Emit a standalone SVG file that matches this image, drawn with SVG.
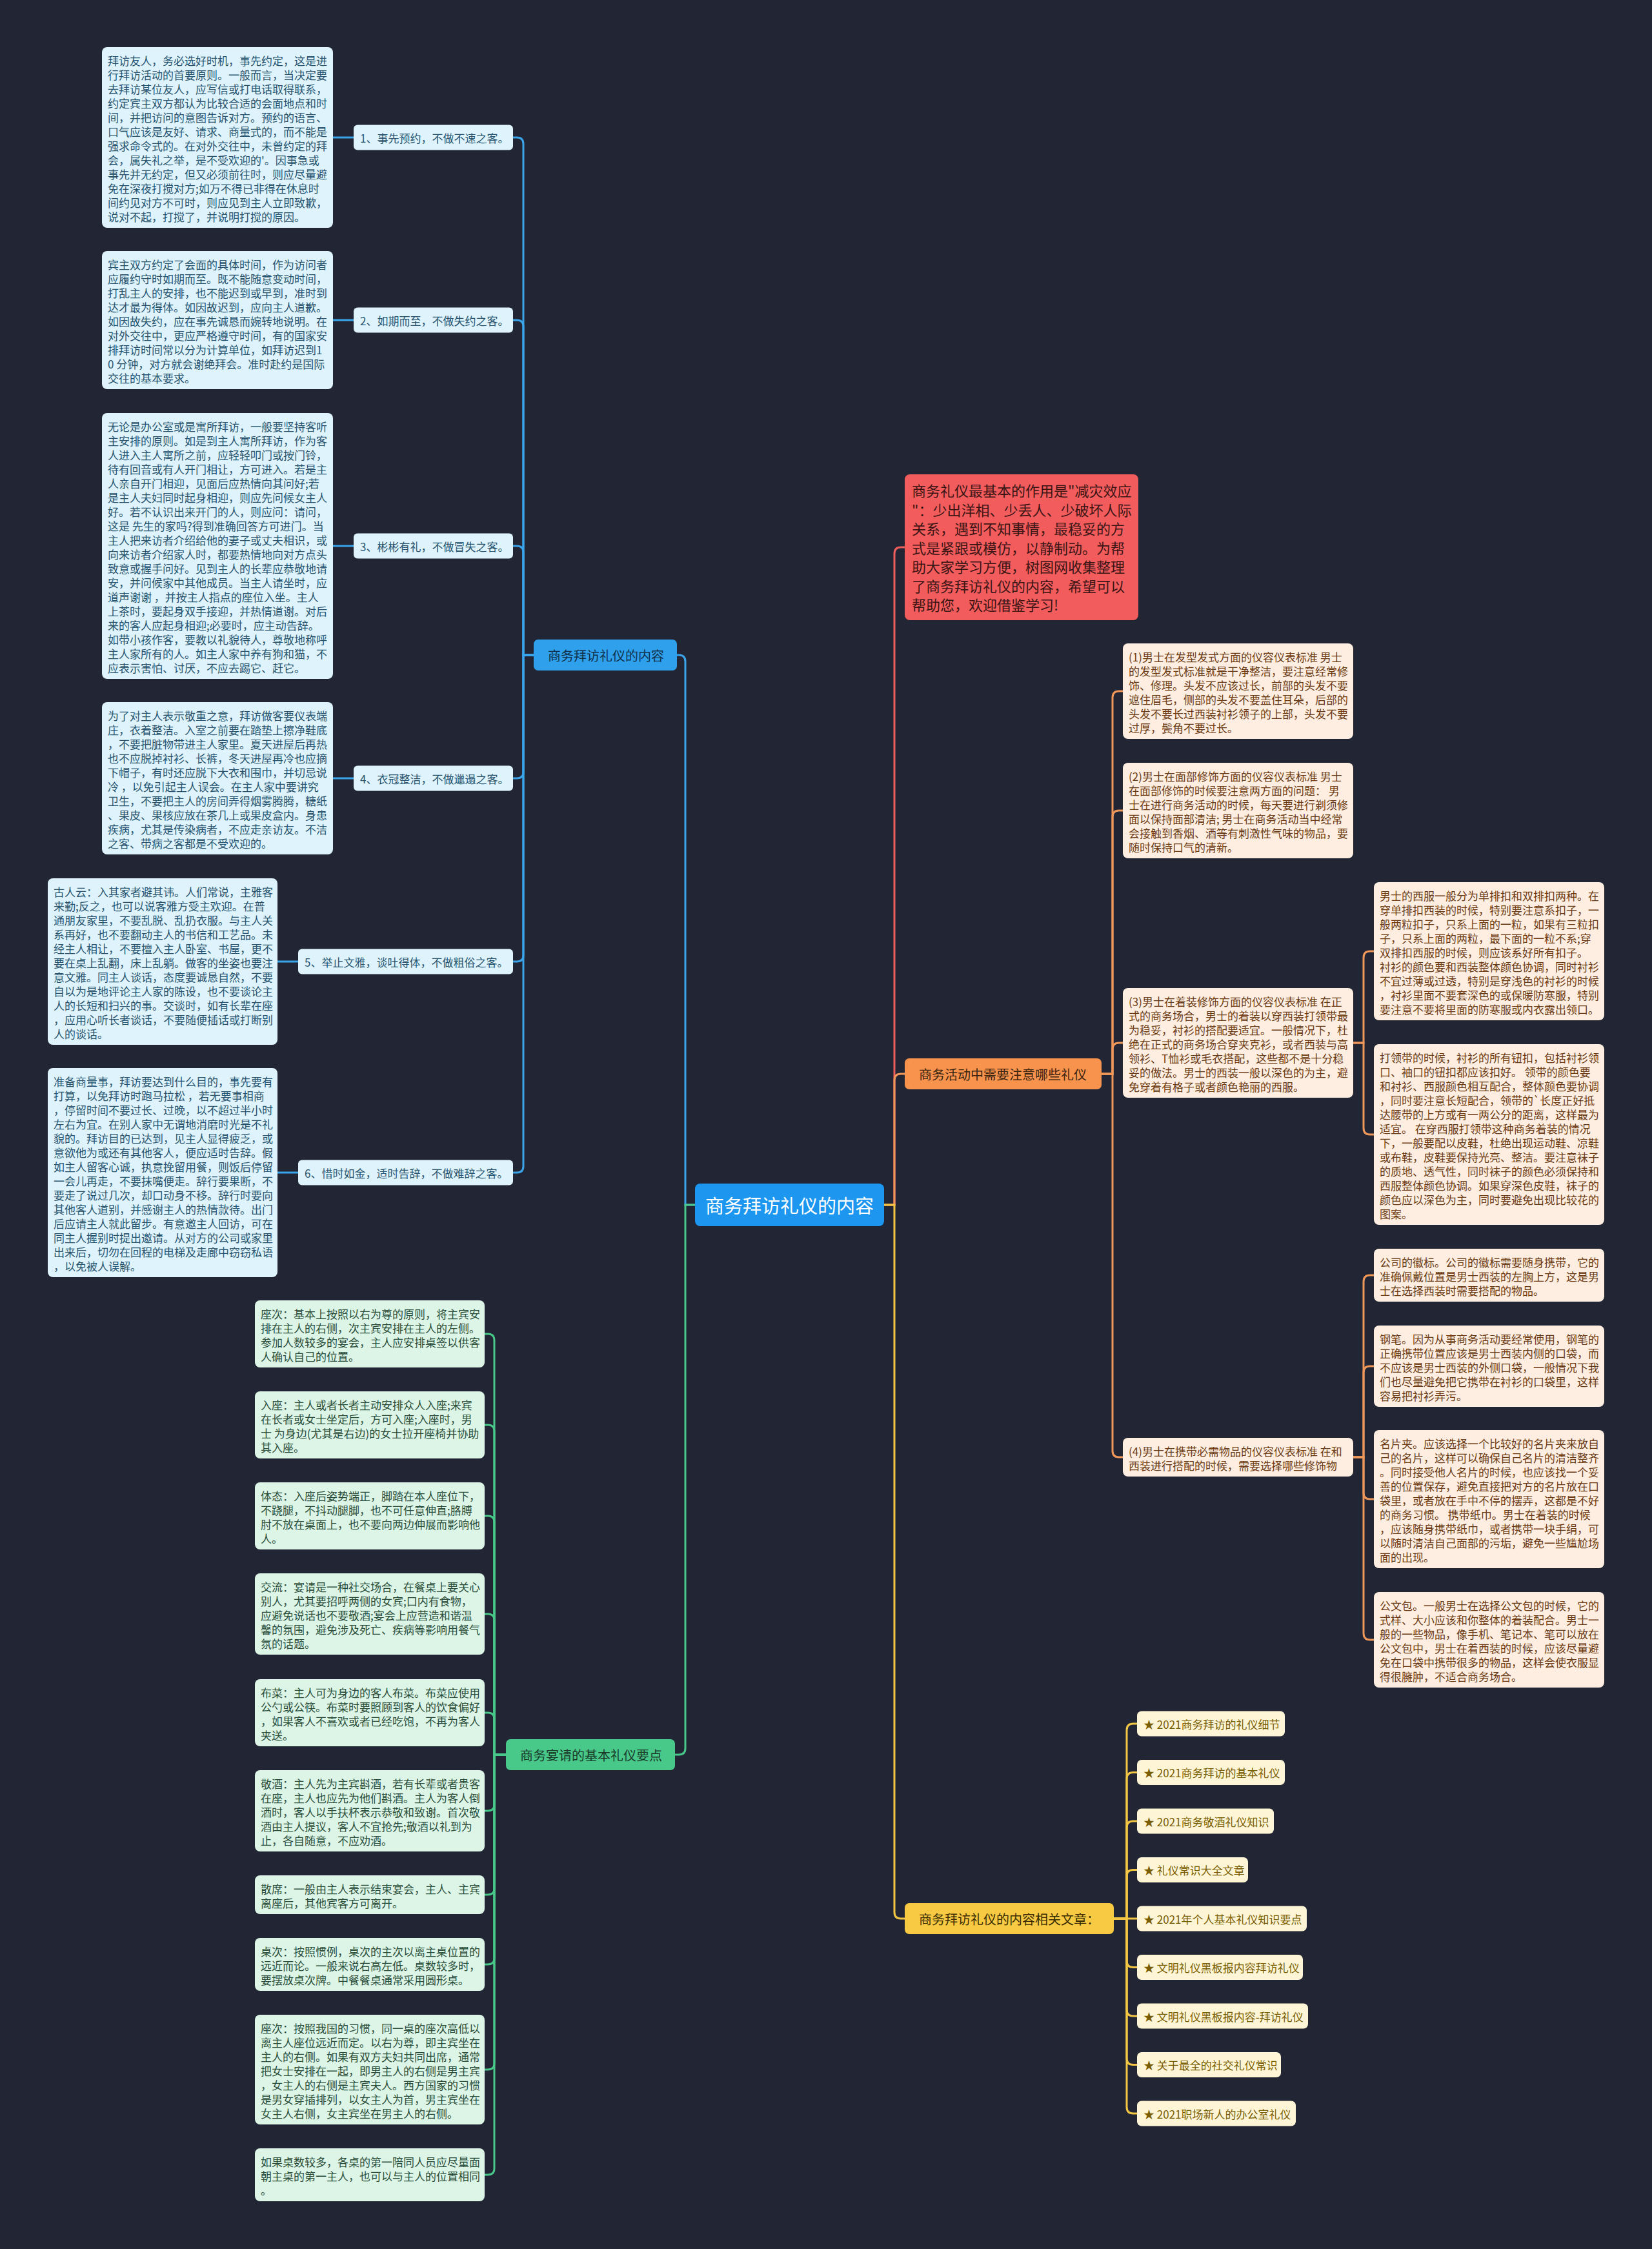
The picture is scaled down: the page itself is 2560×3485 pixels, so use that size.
<svg xmlns="http://www.w3.org/2000/svg" width="2560" height="3485" viewBox="0 0 2560 3485">
<style>
text { font-family: "Noto Sans CJK SC", "Noto Sans", sans-serif; dominant-baseline: central; }
.bbox { fill: #def3fc; }
.btxt { fill: #27536e; font-size: 17px; }
.gbox { fill: #dcf5e7; }
.gtxt { fill: #2a4d3a; font-size: 17px; }
.obox { fill: #fdeee1; }
.otxt { fill: #6b3a12; font-size: 17px; }
.ybox { fill: #fdf5d5; }
.ytxt { fill: #7a5d00; font-size: 17px; }
.l1 { font-size: 20px; }
.c { fill: none; stroke-width: 3; stroke-linecap: round; }
.cb { stroke: #3aa5ea; }
.cg { stroke: #48c98a; }
.cr { stroke: #ec5f5c; }
.co { stroke: #f0975a; }
.cy { stroke: #f3c744; }
</style>
<rect x="0" y="0" width="2560" height="3485" fill="#222533"/>

<g id="connectors">
  <!-- root right -->
  <path class="c cr" d="M1370 1867 H1386 V858 Q1386 848 1396 848 H1402"/>
  <path class="c co" d="M1370 1867 H1386 V1674 Q1386 1664 1396 1664 H1402"/>
  <path class="c cy" d="M1370 1867 H1386 V2963 Q1386 2973 1396 2973 H1402"/>
  <!-- root left -->
  <path class="c cb" d="M1077 1867 H1062 V1025 Q1062 1015 1052 1015 H1049"/>
  <path class="c cg" d="M1077 1867 H1062 V2709 Q1062 2719 1052 2719 H1046"/>
  <!-- blue label to items -->
  <path class="c cb" d="M827 1015 H811 V223 Q811 213 801 213 H795"/>
  <path class="c cb" d="M827 1015 H811 V506 Q811 496 801 496 H795"/>
  <path class="c cb" d="M827 1015 H811 V856 Q811 846 801 846 H795"/>
  <path class="c cb" d="M827 1015 H811 V1196 Q811 1206 801 1206 H795"/>
  <path class="c cb" d="M827 1015 H811 V1480 Q811 1490 801 1490 H795"/>
  <path class="c cb" d="M827 1015 H811 V1807 Q811 1817 801 1817 H795"/>
  <!-- blue items to blocks -->
  <path class="c cb" d="M516 213 H548"/>
  <path class="c cb" d="M516 496 H548"/>
  <path class="c cb" d="M516 846 H548"/>
  <path class="c cb" d="M516 1206 H548"/>
  <path class="c cb" d="M430 1490 H462"/>
  <path class="c cb" d="M430 1817 H462"/>
  <!-- green label to blocks -->
  <path class="c cg" d="M784 2719 H766 V2077 Q766 2067 756 2067 H751"/>
  <path class="c cg" d="M784 2719 H766 V2218 Q766 2208 756 2208 H751"/>
  <path class="c cg" d="M784 2719 H766 V2359 Q766 2349 756 2349 H751"/>
  <path class="c cg" d="M784 2719 H766 V2511 Q766 2501 756 2501 H751"/>
  <path class="c cg" d="M784 2719 H766 V2664 Q766 2654 756 2654 H751"/>
  <path class="c cg" d="M784 2719 H766 V2796 Q766 2806 756 2806 H751"/>
  <path class="c cg" d="M784 2719 H766 V2926 Q766 2936 756 2936 H751"/>
  <path class="c cg" d="M784 2719 H766 V3034 Q766 3044 756 3044 H751"/>
  <path class="c cg" d="M784 2719 H766 V3197 Q766 3207 756 3207 H751"/>
  <path class="c cg" d="M784 2719 H766 V3360 Q766 3370 756 3370 H751"/>
  <!-- orange label to (1)-(4) -->
  <path class="c co" d="M1707 1664 H1724 V1081 Q1724 1071 1734 1071 H1740"/>
  <path class="c co" d="M1707 1664 H1724 V1266 Q1724 1256 1734 1256 H1740"/>
  <path class="c co" d="M1707 1664 H1724 V1626 Q1724 1616 1734 1616 H1740"/>
  <path class="c co" d="M1707 1664 H1724 V2248 Q1724 2258 1734 2258 H1740"/>
  <!-- (3) children -->
  <path class="c co" d="M2097 1616 H2113 V1484 Q2113 1474 2123 1474 H2129"/>
  <path class="c co" d="M2097 1616 H2113 V1748 Q2113 1758 2123 1758 H2129"/>
  <!-- (4) children -->
  <path class="c co" d="M2097 2258 H2113 V1986 Q2113 1976 2123 1976 H2129"/>
  <path class="c co" d="M2097 2258 H2113 V2127 Q2113 2117 2123 2117 H2129"/>
  <path class="c co" d="M2097 2258 H2113 V2313 Q2113 2323 2123 2323 H2129"/>
  <path class="c co" d="M2097 2258 H2113 V2531 Q2113 2541 2123 2541 H2129"/>
  <!-- yellow label to items -->
  <path class="c cy" d="M1726 2973 H1746 V2681 Q1746 2671 1756 2671 H1762"/>
  <path class="c cy" d="M1726 2973 H1746 V2756.5 Q1746 2746.5 1756 2746.5 H1762"/>
  <path class="c cy" d="M1726 2973 H1746 V2832 Q1746 2822 1756 2822 H1762"/>
  <path class="c cy" d="M1726 2973 H1746 V2907.5 Q1746 2897.5 1756 2897.5 H1762"/>
  <path class="c cy" d="M1726 2973 H1762"/>
  <path class="c cy" d="M1726 2973 H1746 V3038.5 Q1746 3048.5 1756 3048.5 H1762"/>
  <path class="c cy" d="M1726 2973 H1746 V3114 Q1746 3124 1756 3124 H1762"/>
  <path class="c cy" d="M1726 2973 H1746 V3189.5 Q1746 3199.5 1756 3199.5 H1762"/>
  <path class="c cy" d="M1726 2973 H1746 V3265 Q1746 3275 1756 3275 H1762"/>
</g>

<!-- root -->
<g id="root">
  <rect x="1077" y="1834" width="293" height="66" rx="8" fill="#1d96ef"/>
  <text x="1223.5" y="1867" font-size="29" fill="#ffffff" text-anchor="middle">商务拜访礼仪的内容</text>
</g>

<!-- red intro -->
<g id="intro">
  <rect x="1402" y="735" width="362" height="226" rx="8" fill="#f25c5c"/>
  <text font-size="22" fill="#3b1515">
    <tspan x="1413" y="759">商务礼仪最基本的作用是"减灾效应</tspan>
    <tspan x="1413" y="788.5">"：少出洋相、少丢人、少破坏人际</tspan>
    <tspan x="1413" y="818">关系，遇到不知事情，最稳妥的方</tspan>
    <tspan x="1413" y="847.5">式是紧跟或模仿，以静制动。为帮</tspan>
    <tspan x="1413" y="877">助大家学习方便，树图网收集整理</tspan>
    <tspan x="1413" y="906.5">了商务拜访礼仪的内容，希望可以</tspan>
    <tspan x="1413" y="936">帮助您，欢迎借鉴学习!</tspan>
  </text>
</g>

<!-- level 1 labels -->
<g id="n-visit">
  <rect x="827" y="991" width="222" height="48" rx="7" fill="#2ea0ec"/>
  <text class="l1" x="849" y="1015" fill="#10304a">商务拜访礼仪的内容</text>
</g>
<g id="n-banquet">
  <rect x="784" y="2695" width="262" height="48" rx="7" fill="#48c98a"/>
  <text class="l1" x="806" y="2719" fill="#1a3a2a">商务宴请的基本礼仪要点</text>
</g>
<g id="n-activity">
  <rect x="1402" y="1640" width="305" height="48" rx="7" fill="#f7934c"/>
  <text class="l1" x="1424" y="1664" fill="#3b2410">商务活动中需要注意哪些礼仪</text>
</g>
<g id="n-related">
  <rect x="1402" y="2949" width="324" height="48" rx="7" fill="#f8ca44"/>
  <text class="l1" x="1424" y="2973" fill="#3a2e00">商务拜访礼仪的内容相关文章：</text>
</g>

<!-- blue sub labels -->
<g id="v1"><rect class="bbox" x="548" y="193.5" width="247" height="39" rx="6"/><text class="btxt" x="558" y="213">1、事先预约，不做不速之客。</text></g>
<g id="v2"><rect class="bbox" x="548" y="476.5" width="247" height="39" rx="6"/><text class="btxt" x="558" y="496">2、如期而至，不做失约之客。</text></g>
<g id="v3"><rect class="bbox" x="548" y="826.5" width="247" height="39" rx="6"/><text class="btxt" x="558" y="846">3、彬彬有礼，不做冒失之客。</text></g>
<g id="v4"><rect class="bbox" x="548" y="1186.5" width="247" height="39" rx="6"/><text class="btxt" x="558" y="1206">4、衣冠整洁，不做邋遢之客。</text></g>
<g id="v5"><rect class="bbox" x="462" y="1470.5" width="333" height="39" rx="6"/><text class="btxt" x="472" y="1490">5、举止文雅，谈吐得体，不做粗俗之客。</text></g>
<g id="v6"><rect class="bbox" x="462" y="1797.5" width="333" height="39" rx="6"/><text class="btxt" x="472" y="1817">6、惜时如金，适时告辞，不做难辞之客。</text></g>

<!-- blue blocks -->
<g id="v1-text"><rect class="bbox" x="158" y="73" width="358" height="280" rx="8"/>
<text class="btxt">
<tspan x="167" y="93">拜访友人，务必选好时机，事先约定，这是进</tspan>
<tspan x="167" y="115">行拜访活动的首要原则。一般而言，当决定要</tspan>
<tspan x="167" y="137">去拜访某位友人，应写信或打电话取得联系，</tspan>
<tspan x="167" y="159">约定宾主双方都认为比较合适的会面地点和时</tspan>
<tspan x="167" y="181">间，并把访问的意图告诉对方。预约的语言、</tspan>
<tspan x="167" y="203">口气应该是友好、请求、商量式的，而不能是</tspan>
<tspan x="167" y="225">强求命令式的。在对外交往中，未曾约定的拜</tspan>
<tspan x="167" y="247">会，属失礼之举，是不受欢迎的'。因事急或</tspan>
<tspan x="167" y="269">事先并无约定，但又必须前往时，则应尽量避</tspan>
<tspan x="167" y="291">免在深夜打搅对方;如万不得已非得在休息时</tspan>
<tspan x="167" y="313">间约见对方不可时，则应见到主人立即致歉，</tspan>
<tspan x="167" y="335">说对不起，打搅了，并说明打搅的原因。</tspan>
</text></g>

<g id="v2-text"><rect class="bbox" x="158" y="389" width="358" height="214" rx="8"/>
<text class="btxt">
<tspan x="167" y="409">宾主双方约定了会面的具体时间，作为访问者</tspan>
<tspan x="167" y="431">应履约守时如期而至。既不能随意变动时间，</tspan>
<tspan x="167" y="453">打乱主人的安排，也不能迟到或早到，准时到</tspan>
<tspan x="167" y="475">达才最为得体。如因故迟到，应向主人道歉。</tspan>
<tspan x="167" y="497">如因故失约，应在事先诚恳而婉转地说明。在</tspan>
<tspan x="167" y="519">对外交往中，更应严格遵守时间，有的国家安</tspan>
<tspan x="167" y="541">排拜访时间常以分为计算单位，如拜访迟到1</tspan>
<tspan x="167" y="563">0 分钟，对方就会谢绝拜会。准时赴约是国际</tspan>
<tspan x="167" y="585">交往的基本要求。</tspan>
</text></g>

<g id="v3-text"><rect class="bbox" x="158" y="640" width="358" height="412" rx="8"/>
<text class="btxt">
<tspan x="167" y="660">无论是办公室或是寓所拜访，一般要坚持客听</tspan>
<tspan x="167" y="682">主安排的原则。如是到主人寓所拜访，作为客</tspan>
<tspan x="167" y="704">人进入主人寓所之前，应轻轻叩门或按门铃，</tspan>
<tspan x="167" y="726">待有回音或有人开门相让，方可进入。若是主</tspan>
<tspan x="167" y="748">人亲自开门相迎，见面后应热情向其问好;若</tspan>
<tspan x="167" y="770">是主人夫妇同时起身相迎，则应先问候女主人</tspan>
<tspan x="167" y="792">好。若不认识出来开门的人，则应问：请问，</tspan>
<tspan x="167" y="814">这是 先生的家吗?得到准确回答方可进门。当</tspan>
<tspan x="167" y="836">主人把来访者介绍给他的妻子或丈夫相识，或</tspan>
<tspan x="167" y="858">向来访者介绍家人时，都要热情地向对方点头</tspan>
<tspan x="167" y="880">致意或握手问好。见到主人的长辈应恭敬地请</tspan>
<tspan x="167" y="902">安，并问候家中其他成员。当主人请坐时，应</tspan>
<tspan x="167" y="924">道声谢谢 ，并按主人指点的座位入坐。主人</tspan>
<tspan x="167" y="946">上茶时，要起身双手接迎，并热情道谢。对后</tspan>
<tspan x="167" y="968">来的客人应起身相迎;必要时，应主动告辞。</tspan>
<tspan x="167" y="990">如带小孩作客，要教以礼貌待人，尊敬地称呼</tspan>
<tspan x="167" y="1012">主人家所有的人。如主人家中养有狗和猫，不</tspan>
<tspan x="167" y="1034">应表示害怕、讨厌，不应去踢它、赶它。</tspan>
</text></g>

<g id="v4-text"><rect class="bbox" x="158" y="1088" width="358" height="236" rx="8"/>
<text class="btxt">
<tspan x="167" y="1108">为了对主人表示敬重之意，拜访做客要仪表端</tspan>
<tspan x="167" y="1130">庄，衣着整洁。入室之前要在踏垫上擦净鞋底</tspan>
<tspan x="167" y="1152">，不要把脏物带进主人家里。夏天进屋后再热</tspan>
<tspan x="167" y="1174">也不应脱掉衬衫、长裤，冬天进屋再冷也应摘</tspan>
<tspan x="167" y="1196">下帽子，有时还应脱下大衣和围巾，并切忌说</tspan>
<tspan x="167" y="1218">冷 ，以免引起主人误会。在主人家中要讲究</tspan>
<tspan x="167" y="1240">卫生，不要把主人的房间弄得烟雾腾腾，糖纸</tspan>
<tspan x="167" y="1262">、果皮、果核应放在茶几上或果皮盒内。身患</tspan>
<tspan x="167" y="1284">疾病，尤其是传染病者，不应走亲访友。不洁</tspan>
<tspan x="167" y="1306">之客、带病之客都是不受欢迎的。</tspan>
</text></g>

<g id="v5-text"><rect class="bbox" x="74" y="1361" width="356" height="258" rx="8"/>
<text class="btxt">
<tspan x="83" y="1381">古人云：入其家者避其讳。人们常说，主雅客</tspan>
<tspan x="83" y="1403">来勤;反之，也可以说客雅方受主欢迎。在普</tspan>
<tspan x="83" y="1425">通朋友家里，不要乱脱、乱扔衣服。与主人关</tspan>
<tspan x="83" y="1447">系再好，也不要翻动主人的书信和工艺品。未</tspan>
<tspan x="83" y="1469">经主人相让，不要擅入主人卧室、书屋，更不</tspan>
<tspan x="83" y="1491">要在桌上乱翻，床上乱躺。做客的坐姿也要注</tspan>
<tspan x="83" y="1513">意文雅。同主人谈话，态度要诚恳自然，不要</tspan>
<tspan x="83" y="1535">自以为是地评论主人家的陈设，也不要谈论主</tspan>
<tspan x="83" y="1557">人的长短和扫兴的事。交谈时，如有长辈在座</tspan>
<tspan x="83" y="1579">，应用心听长者谈话，不要随便插话或打断别</tspan>
<tspan x="83" y="1601">人的谈话。</tspan>
</text></g>

<g id="v6-text"><rect class="bbox" x="74" y="1655" width="356" height="324" rx="8"/>
<text class="btxt">
<tspan x="83" y="1675">准备商量事，拜访要达到什么目的，事先要有</tspan>
<tspan x="83" y="1697">打算，以免拜访时跑马拉松 ，若无要事相商</tspan>
<tspan x="83" y="1719">，停留时间不要过长、过晚，以不超过半小时</tspan>
<tspan x="83" y="1741">左右为宜。在别人家中无谓地消磨时光是不礼</tspan>
<tspan x="83" y="1763">貌的。拜访目的已达到，见主人显得疲乏，或</tspan>
<tspan x="83" y="1785">意欲他为或还有其他客人，便应适时告辞。假</tspan>
<tspan x="83" y="1807">如主人留客心诚，执意挽留用餐，则饭后停留</tspan>
<tspan x="83" y="1829">一会儿再走，不要抹嘴便走。辞行要果断，不</tspan>
<tspan x="83" y="1851">要走了说过几次，却口动身不移。辞行时要向</tspan>
<tspan x="83" y="1873">其他客人道别，并感谢主人的热情款待。出门</tspan>
<tspan x="83" y="1895">后应请主人就此留步。有意邀主人回访，可在</tspan>
<tspan x="83" y="1917">同主人握别时提出邀请。从对方的公司或家里</tspan>
<tspan x="83" y="1939">出来后，切勿在回程的电梯及走廊中窃窃私语</tspan>
<tspan x="83" y="1961">，以免被人误解。</tspan>
</text></g>

<!-- green blocks -->
<g id="b1"><rect class="gbox" x="395" y="2015" width="356" height="104" rx="8"/>
<text class="gtxt">
<tspan x="404" y="2035">座次：基本上按照以右为尊的原则，将主宾安</tspan>
<tspan x="404" y="2057">排在主人的右侧，次主宾安排在主人的左侧。</tspan>
<tspan x="404" y="2079">参加人数较多的宴会，主人应安排桌签以供客</tspan>
<tspan x="404" y="2101">人确认自己的位置。</tspan>
</text></g>
<g id="b2"><rect class="gbox" x="395" y="2156" width="356" height="104" rx="8"/>
<text class="gtxt">
<tspan x="404" y="2176">入座：主人或者长者主动安排众人入座;来宾</tspan>
<tspan x="404" y="2198">在长者或女士坐定后，方可入座;入座时，男</tspan>
<tspan x="404" y="2220">士 为身边(尤其是右边)的女士拉开座椅并协助</tspan>
<tspan x="404" y="2242">其入座。</tspan>
</text></g>
<g id="b3"><rect class="gbox" x="395" y="2297" width="356" height="104" rx="8"/>
<text class="gtxt">
<tspan x="404" y="2317">体态：入座后姿势端正，脚踏在本人座位下，</tspan>
<tspan x="404" y="2339">不跷腿，不抖动腿脚，也不可任意伸直;胳膊</tspan>
<tspan x="404" y="2361">肘不放在桌面上，也不要向两边伸展而影响他</tspan>
<tspan x="404" y="2383">人。</tspan>
</text></g>
<g id="b4"><rect class="gbox" x="395" y="2438" width="356" height="126" rx="8"/>
<text class="gtxt">
<tspan x="404" y="2458">交流：宴请是一种社交场合，在餐桌上要关心</tspan>
<tspan x="404" y="2480">别人，尤其要招呼两侧的女宾;口内有食物，</tspan>
<tspan x="404" y="2502">应避免说话也不要敬酒;宴会上应营造和谐温</tspan>
<tspan x="404" y="2524">馨的氛围，避免涉及死亡、疾病等影响用餐气</tspan>
<tspan x="404" y="2546">氛的话题。</tspan>
</text></g>
<g id="b5"><rect class="gbox" x="395" y="2602" width="356" height="104" rx="8"/>
<text class="gtxt">
<tspan x="404" y="2622">布菜：主人可为身边的客人布菜。布菜应使用</tspan>
<tspan x="404" y="2644">公勺或公筷。布菜时要照顾到客人的饮食偏好</tspan>
<tspan x="404" y="2666">，如果客人不喜欢或者已经吃饱，不再为客人</tspan>
<tspan x="404" y="2688">夹送。</tspan>
</text></g>
<g id="b6"><rect class="gbox" x="395" y="2743" width="356" height="126" rx="8"/>
<text class="gtxt">
<tspan x="404" y="2763">敬酒：主人先为主宾斟酒，若有长辈或者贵客</tspan>
<tspan x="404" y="2785">在座，主人也应先为他们斟酒。主人为客人倒</tspan>
<tspan x="404" y="2807">酒时，客人以手扶杯表示恭敬和致谢。首次敬</tspan>
<tspan x="404" y="2829">酒由主人提议，客人不宜抢先;敬酒以礼到为</tspan>
<tspan x="404" y="2851">止，各自随意，不应劝酒。</tspan>
</text></g>
<g id="b7"><rect class="gbox" x="395" y="2906" width="356" height="60" rx="8"/>
<text class="gtxt">
<tspan x="404" y="2926">散席：一般由主人表示结束宴会，主人、主宾</tspan>
<tspan x="404" y="2948">离座后，其他宾客方可离开。</tspan>
</text></g>
<g id="b8"><rect class="gbox" x="395" y="3003" width="356" height="82" rx="8"/>
<text class="gtxt">
<tspan x="404" y="3023">桌次：按照惯例，桌次的主次以离主桌位置的</tspan>
<tspan x="404" y="3045">远近而论。一般来说右高左低。桌数较多时，</tspan>
<tspan x="404" y="3067">要摆放桌次牌。中餐餐桌通常采用圆形桌。</tspan>
</text></g>
<g id="b9"><rect class="gbox" x="395" y="3122" width="356" height="170" rx="8"/>
<text class="gtxt">
<tspan x="404" y="3142">座次：按照我国的习惯，同一桌的座次高低以</tspan>
<tspan x="404" y="3164">离主人座位远近而定。以右为尊，即主宾坐在</tspan>
<tspan x="404" y="3186">主人的右侧。如果有双方夫妇共同出席，通常</tspan>
<tspan x="404" y="3208">把女士安排在一起，即男主人的右侧是男主宾</tspan>
<tspan x="404" y="3230">，女主人的右侧是主宾夫人。西方国家的习惯</tspan>
<tspan x="404" y="3252">是男女穿插排列，以女主人为首，男主宾坐在</tspan>
<tspan x="404" y="3274">女主人右侧，女主宾坐在男主人的右侧。</tspan>
</text></g>
<g id="b10"><rect class="gbox" x="395" y="3329" width="356" height="82" rx="8"/>
<text class="gtxt">
<tspan x="404" y="3349">如果桌数较多，各桌的第一陪同人员应尽量面</tspan>
<tspan x="404" y="3371">朝主桌的第一主人，也可以与主人的位置相同</tspan>
<tspan x="404" y="3393">。</tspan>
</text></g>

<!-- orange level 2 -->
<g id="o1"><rect class="obox" x="1740" y="997" width="357" height="148" rx="8"/>
<text class="otxt">
<tspan x="1749" y="1017">(1)男士在发型发式方面的仪容仪表标准 男士</tspan>
<tspan x="1749" y="1039">的发型发式标准就是干净整洁，要注意经常修</tspan>
<tspan x="1749" y="1061">饰、修理。头发不应该过长，前部的头发不要</tspan>
<tspan x="1749" y="1083">遮住眉毛，侧部的头发不要盖住耳朵，后部的</tspan>
<tspan x="1749" y="1105">头发不要长过西装衬衫领子的上部，头发不要</tspan>
<tspan x="1749" y="1127">过厚，鬓角不要过长。</tspan>
</text></g>
<g id="o2"><rect class="obox" x="1740" y="1182" width="357" height="148" rx="8"/>
<text class="otxt">
<tspan x="1749" y="1202">(2)男士在面部修饰方面的仪容仪表标准 男士</tspan>
<tspan x="1749" y="1224">在面部修饰的时候要注意两方面的问题： 男</tspan>
<tspan x="1749" y="1246">士在进行商务活动的时候，每天要进行剃须修</tspan>
<tspan x="1749" y="1268">面以保持面部清洁; 男士在商务活动当中经常</tspan>
<tspan x="1749" y="1290">会接触到香烟、酒等有刺激性气味的物品，要</tspan>
<tspan x="1749" y="1312">随时保持口气的清新。</tspan>
</text></g>
<g id="o3"><rect class="obox" x="1740" y="1531" width="357" height="170" rx="8"/>
<text class="otxt">
<tspan x="1749" y="1551">(3)男士在着装修饰方面的仪容仪表标准 在正</tspan>
<tspan x="1749" y="1573">式的商务场合，男士的着装以穿西装打领带最</tspan>
<tspan x="1749" y="1595">为稳妥，衬衫的搭配要适宜。一般情况下，杜</tspan>
<tspan x="1749" y="1617">绝在正式的商务场合穿夹克衫，或者西装与高</tspan>
<tspan x="1749" y="1639">领衫、T恤衫或毛衣搭配，这些都不是十分稳</tspan>
<tspan x="1749" y="1661">妥的做法。男士的西装一般以深色的为主，避</tspan>
<tspan x="1749" y="1683">免穿着有格子或者颜色艳丽的西服。</tspan>
</text></g>
<g id="o4"><rect class="obox" x="1740" y="2228" width="357" height="60" rx="8"/>
<text class="otxt">
<tspan x="1749" y="2248">(4)男士在携带必需物品的仪容仪表标准 在和</tspan>
<tspan x="1749" y="2270">西装进行搭配的时候，需要选择哪些修饰物</tspan>
</text></g>

<!-- orange level 3 -->
<g id="o3a"><rect class="obox" x="2129" y="1367" width="357" height="214" rx="8"/>
<text class="otxt">
<tspan x="2138" y="1387">男士的西服一般分为单排扣和双排扣两种。在</tspan>
<tspan x="2138" y="1409">穿单排扣西装的时候，特别要注意系扣子，一</tspan>
<tspan x="2138" y="1431">般两粒扣子，只系上面的一粒，如果有三粒扣</tspan>
<tspan x="2138" y="1453">子，只系上面的两粒，最下面的一粒不系;穿</tspan>
<tspan x="2138" y="1475">双排扣西服的时候，则应该系好所有扣子。</tspan>
<tspan x="2138" y="1497">衬衫的颜色要和西装整体颜色协调，同时衬衫</tspan>
<tspan x="2138" y="1519">不宜过薄或过透，特别是穿浅色的衬衫的时候</tspan>
<tspan x="2138" y="1541">，衬衫里面不要套深色的或保暖防寒服，特别</tspan>
<tspan x="2138" y="1563">要注意不要将里面的防寒服或内衣露出领口。</tspan>
</text></g>
<g id="o3b"><rect class="obox" x="2129" y="1618" width="357" height="280" rx="8"/>
<text class="otxt">
<tspan x="2138" y="1638">打领带的时候，衬衫的所有钮扣，包括衬衫领</tspan>
<tspan x="2138" y="1660">口、袖口的钮扣都应该扣好。 领带的颜色要</tspan>
<tspan x="2138" y="1682">和衬衫、西服颜色相互配合，整体颜色要协调</tspan>
<tspan x="2138" y="1704">，同时要注意长短配合，领带的`长度正好抵</tspan>
<tspan x="2138" y="1726">达腰带的上方或有一两公分的距离，这样最为</tspan>
<tspan x="2138" y="1748">适宜。 在穿西服打领带这种商务着装的情况</tspan>
<tspan x="2138" y="1770">下，一般要配以皮鞋，杜绝出现运动鞋、凉鞋</tspan>
<tspan x="2138" y="1792">或布鞋，皮鞋要保持光亮、整洁。要注意袜子</tspan>
<tspan x="2138" y="1814">的质地、透气性，同时袜子的颜色必须保持和</tspan>
<tspan x="2138" y="1836">西服整体颜色协调。如果穿深色皮鞋，袜子的</tspan>
<tspan x="2138" y="1858">颜色应以深色为主，同时要避免出现比较花的</tspan>
<tspan x="2138" y="1880">图案。</tspan>
</text></g>
<g id="o4a"><rect class="obox" x="2129" y="1935" width="357" height="82" rx="8"/>
<text class="otxt">
<tspan x="2138" y="1955">公司的徽标。公司的徽标需要随身携带，它的</tspan>
<tspan x="2138" y="1977">准确佩戴位置是男士西装的左胸上方，这是男</tspan>
<tspan x="2138" y="1999">士在选择西装时需要搭配的物品。</tspan>
</text></g>
<g id="o4b"><rect class="obox" x="2129" y="2054" width="357" height="126" rx="8"/>
<text class="otxt">
<tspan x="2138" y="2074">钢笔。因为从事商务活动要经常使用，钢笔的</tspan>
<tspan x="2138" y="2096">正确携带位置应该是男士西装内侧的口袋，而</tspan>
<tspan x="2138" y="2118">不应该是男士西装的外侧口袋，一般情况下我</tspan>
<tspan x="2138" y="2140">们也尽量避免把它携带在衬衫的口袋里，这样</tspan>
<tspan x="2138" y="2162">容易把衬衫弄污。</tspan>
</text></g>
<g id="o4c"><rect class="obox" x="2129" y="2216" width="357" height="214" rx="8"/>
<text class="otxt">
<tspan x="2138" y="2236">名片夹。应该选择一个比较好的名片夹来放自</tspan>
<tspan x="2138" y="2258">己的名片，这样可以确保自己名片的清洁整齐</tspan>
<tspan x="2138" y="2280">。同时接受他人名片的时候，也应该找一个妥</tspan>
<tspan x="2138" y="2302">善的位置保存，避免直接把对方的名片放在口</tspan>
<tspan x="2138" y="2324">袋里，或者放在手中不停的摆弄，这都是不好</tspan>
<tspan x="2138" y="2346">的商务习惯。 携带纸巾。男士在着装的时候</tspan>
<tspan x="2138" y="2368">，应该随身携带纸巾，或者携带一块手绢，可</tspan>
<tspan x="2138" y="2390">以随时清洁自己面部的污垢，避免一些尴尬场</tspan>
<tspan x="2138" y="2412">面的出现。</tspan>
</text></g>
<g id="o4d"><rect class="obox" x="2129" y="2467" width="357" height="148" rx="8"/>
<text class="otxt">
<tspan x="2138" y="2487">公文包。一般男士在选择公文包的时候，它的</tspan>
<tspan x="2138" y="2509">式样、大小应该和你整体的着装配合。男士一</tspan>
<tspan x="2138" y="2531">般的一些物品，像手机、笔记本、笔可以放在</tspan>
<tspan x="2138" y="2553">公文包中，男士在着西装的时候，应该尽量避</tspan>
<tspan x="2138" y="2575">免在口袋中携带很多的物品，这样会使衣服显</tspan>
<tspan x="2138" y="2597">得很臃肿，不适合商务场合。</tspan>
</text></g>

<!-- related links -->
<g id="r1"><rect class="ybox" x="1762" y="2651.5" width="229" height="39" rx="7"/><text class="ytxt" x="1772" y="2671">★ 2021商务拜访的礼仪细节</text></g>
<g id="r2"><rect class="ybox" x="1762" y="2727" width="229" height="39" rx="7"/><text class="ytxt" x="1772" y="2746.5">★ 2021商务拜访的基本礼仪</text></g>
<g id="r3"><rect class="ybox" x="1762" y="2802.5" width="212" height="39" rx="7"/><text class="ytxt" x="1772" y="2822">★ 2021商务敬酒礼仪知识</text></g>
<g id="r4"><rect class="ybox" x="1762" y="2878" width="172" height="39" rx="7"/><text class="ytxt" x="1772" y="2897.5">★ 礼仪常识大全文章</text></g>
<g id="r5"><rect class="ybox" x="1762" y="2953.5" width="263" height="39" rx="7"/><text class="ytxt" x="1772" y="2973">★ 2021年个人基本礼仪知识要点</text></g>
<g id="r6"><rect class="ybox" x="1762" y="3029" width="257" height="39" rx="7"/><text class="ytxt" x="1772" y="3048.5">★ 文明礼仪黑板报内容拜访礼仪</text></g>
<g id="r7"><rect class="ybox" x="1762" y="3104.5" width="265" height="39" rx="7"/><text class="ytxt" x="1772" y="3124">★ 文明礼仪黑板报内容-拜访礼仪</text></g>
<g id="r8"><rect class="ybox" x="1762" y="3180" width="223" height="39" rx="7"/><text class="ytxt" x="1772" y="3199.5">★ 关于最全的社交礼仪常识</text></g>
<g id="r9"><rect class="ybox" x="1762" y="3255.5" width="246" height="39" rx="7"/><text class="ytxt" x="1772" y="3275">★ 2021职场新人的办公室礼仪</text></g>
</svg>
